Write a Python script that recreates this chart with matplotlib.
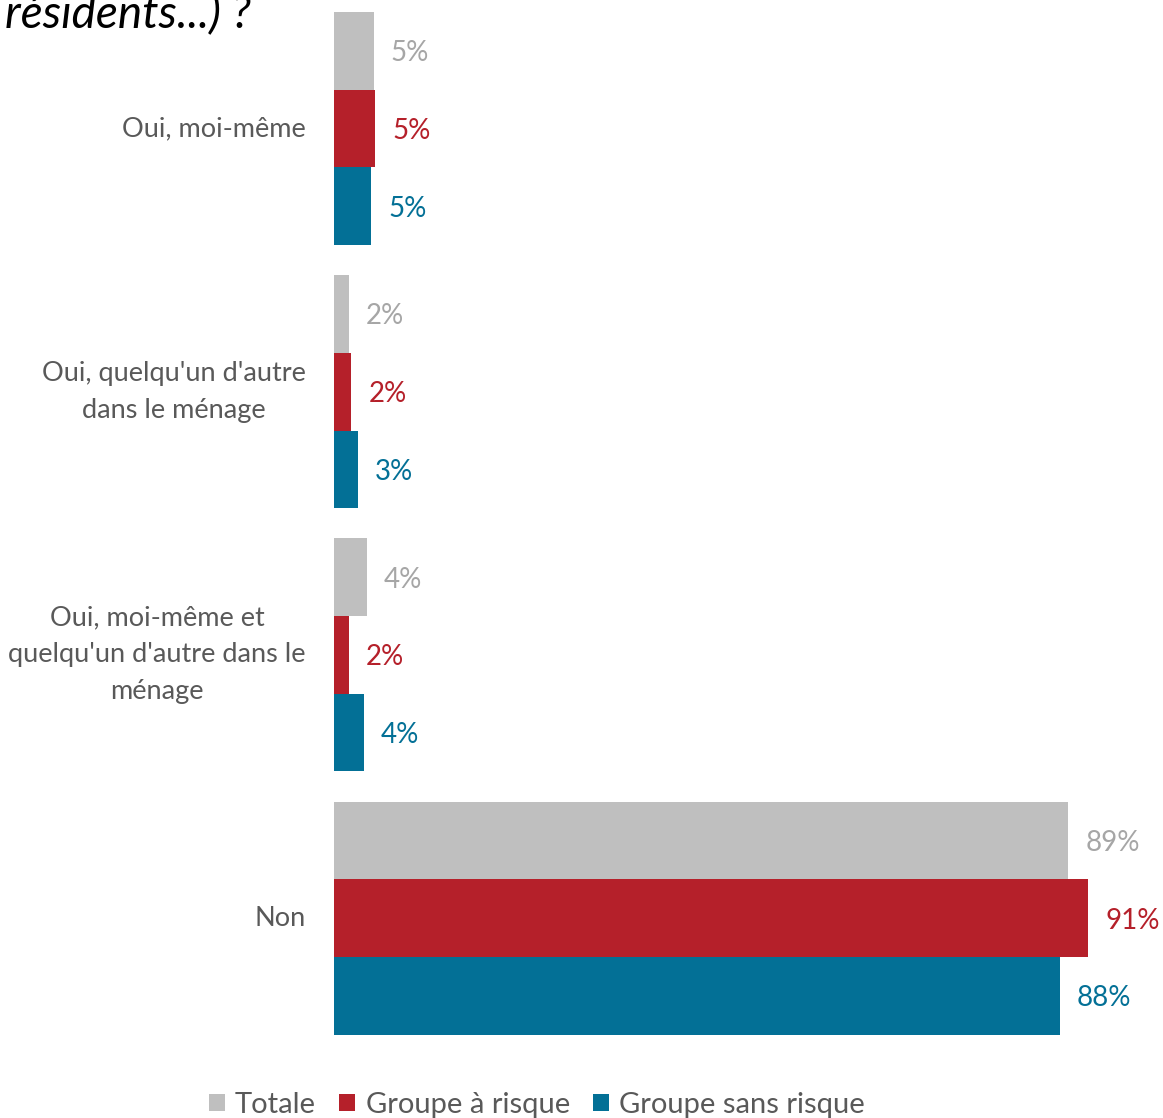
import numpy as np
import matplotlib.pyplot as plt
from matplotlib.transforms import offset_copy

# donnees (%)
categories = ["Oui, moi-même",
              "Oui, quelqu'un d'autre\ndans le ménage",
              "Oui, moi-même et\nquelqu'un d'autre dans le\nménage",
              "Non"]
totale = [4.8, 1.8, 4.0, 89.0]
risque = [5.0, 2.1, 1.8, 91.4]
sans_risque = [4.5, 2.9, 3.6, 88.0]
etiq_totale = ["5%", "2%", "4%", "89%"]
etiq_risque = ["5%", "2%", "2%", "91%"]
etiq_sans = ["5%", "3%", "4%", "88%"]
series = ["Totale", "Groupe à risque", "Groupe sans risque"]

c_gris = "#BFBFBF"
c_rouge = "#B5202A"
c_bleu = "#037096"
c_txt_gris = "#A6A6A6"

plt.rcParams['font.family'] = ['Lato', 'DejaVu Sans']

W, H = 1163, 1118
fig = plt.figure(figsize=(W/100, H/100), dpi=100)
# axes: gauche a x=334 px, du haut jusqu'a y=1050 px
ax = fig.add_axes([334/W, 1-1050/H, 1-334/W, 1050/H])

y = np.arange(len(categories))
h = 0.2953
ax.barh(y - h, totale, height=h, color=c_gris, label=series[0])
ax.barh(y, risque, height=h, color=c_rouge, label=series[1])
ax.barh(y + h, sans_risque, height=h, color=c_bleu, label=series[2])

ax.set_xlim(0, (W-334)/8.25)
ax.set_ylim((1050-128.5)/263.2, -128.5/263.2)

off = 17/8.25
fs = 20
for i in range(len(categories)):
    ax.text(totale[i]+off, y[i]-h, etiq_totale[i], va='center_baseline', ha='left', fontsize=fs, color=c_txt_gris)
    ax.text(risque[i]+off, y[i], etiq_risque[i], va='center_baseline', ha='left', fontsize=fs, color=c_rouge)
    ax.text(sans_risque[i]+off, y[i]+h, etiq_sans[i], va='center_baseline', ha='left', fontsize=fs, color=c_bleu)

# etiquettes des categories, bloc aligne a droite, lignes centrees
trans = offset_copy(ax.get_yaxis_transform(), fig=fig, x=-28, y=0, units='dots')
for i, cat in enumerate(categories):
    ax.text(0, y[i], cat, transform=trans, ha='right', va='center', multialignment='center',
            fontsize=19.5, color="#595959", linespacing=1.6)

ax.set_yticks([])
ax.set_xticks([])
for s in ax.spines.values():
    s.set_visible(False)

# titre coupe en haut
fig.text(5/W, 1-27/H, "résidents...) ?", fontsize=33, style='italic', color='black', va='baseline', ha='left')

leg = fig.legend(loc='center', bbox_to_anchor=(537/W, 1-1105/H), ncol=3, frameon=False,
                 fontsize=21, handlelength=0.55, handleheight=0.55, handletextpad=0.35, columnspacing=0.8)
for t in leg.get_texts():
    t.set_color("#595959")

fig.savefig("out.png", dpi=100)
